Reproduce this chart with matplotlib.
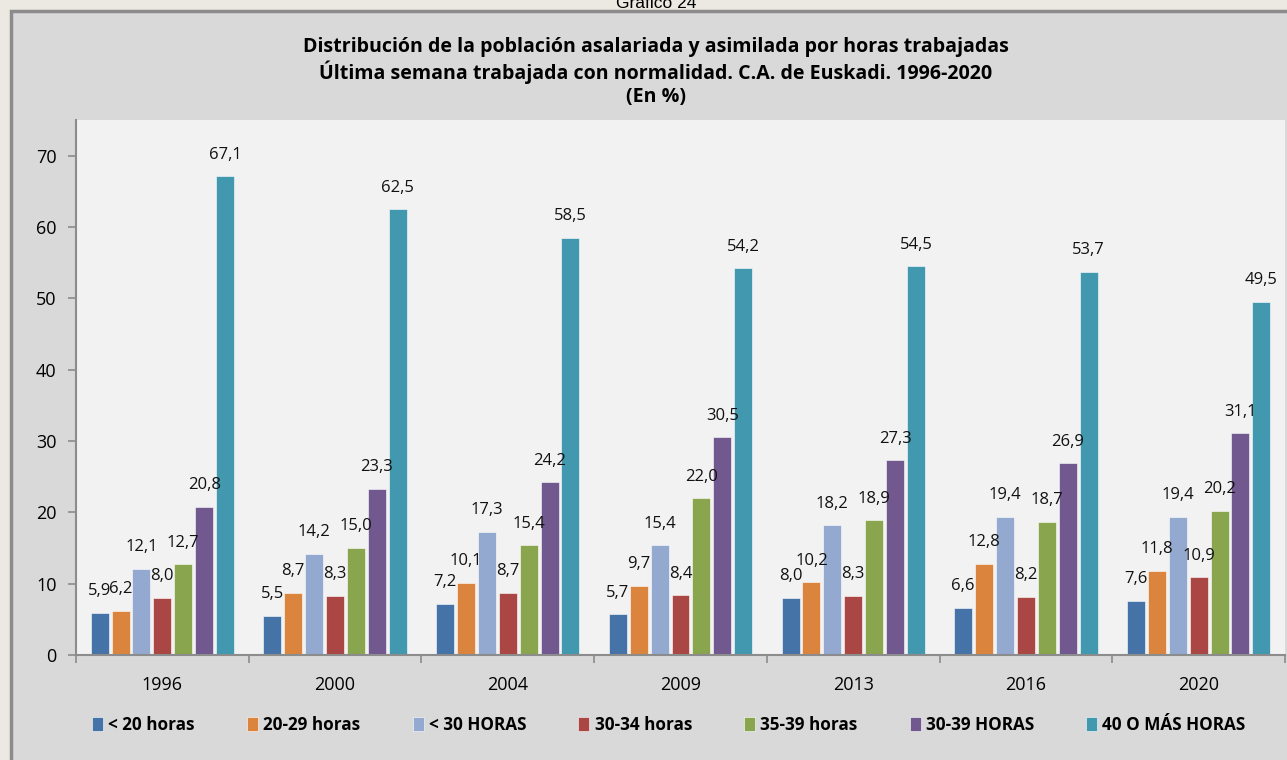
import numpy as np
import matplotlib
matplotlib.use("Agg")
import matplotlib.pyplot as plt
from matplotlib.patches import Rectangle

# data (%)
years = ["1996", "2000", "2004", "2009", "2013", "2016", "2020"]
series_names = ["< 20 horas", "20-29 horas", "< 30 HORAS", "30-34 horas",
                "35-39 horas", "30-39 HORAS", "40 O MÁS HORAS"]
menos20 = [5.9, 5.5, 7.2, 5.7, 8.0, 6.6, 7.6]
h20_29 = [6.2, 8.7, 10.1, 9.7, 10.2, 12.8, 11.8]
menos30 = [12.1, 14.2, 17.3, 15.4, 18.2, 19.4, 19.4]
h30_34 = [8.0, 8.3, 8.7, 8.4, 8.3, 8.2, 10.9]
h35_39 = [12.7, 15.0, 15.4, 22.0, 18.9, 18.7, 20.2]
h30_39 = [20.8, 23.3, 24.2, 30.5, 27.3, 26.9, 31.1]
h40mas = [67.1, 62.5, 58.5, 54.2, 54.5, 53.7, 49.5]
all_series = [menos20, h20_29, menos30, h30_34, h35_39, h30_39, h40mas]
colors = ["#4572a7", "#db843d", "#93a9cf", "#aa4643", "#89a54e", "#71588f", "#4198af"]

W, H = 1287, 760
fig = plt.figure(figsize=(W / 100, H / 100), dpi=100)
fig.patch.set_facecolor("#ece9e2")

# chart area (behind the axes)
fig.patches.append(Rectangle((11 / W, -0.01), 1.0, 1.01 - 11 / H, transform=fig.transFigure,
                             facecolor="#d9d9d9", edgecolor="#8c8c8c", lw=2.5, zorder=-10))

cx = 656 / W
fig.text(cx, 1 - 4 / H, "Gráfico 24", ha="center", va="center",
         fontsize=12.5, family="Liberation Sans")

title = ("Distribución de la población asalariada y asimilada por horas trabajadas\n"
         "Última semana trabajada con normalidad. C.A. de Euskadi. 1996-2020\n"
         "(En %)")
fig.text(cx, 1 - 72 / H, title, ha="center", va="center", fontsize=14.1,
         fontweight="bold", family="Open Sans", linespacing=1.22)

left, right, top, bottom = 76, 1285, 120, 655
ax = fig.add_axes([left / W, 1 - bottom / H, (right - left) / W, (bottom - top) / H])
ax.set_facecolor("#f2f2f2")

x = np.arange(len(years))
pitch = 0.121
bw = 0.104
for i, (vals, col, name) in enumerate(zip(all_series, colors, series_names)):
    xs = x + (i - 3) * pitch
    ax.bar(xs, vals, width=bw, color=col, edgecolor="white", linewidth=0.4,
           label=name, zorder=2)
    for xi, v in zip(xs, vals):
        ax.annotate(f"{v:.1f}".replace(".", ","), (xi, v), xytext=(0, 15.5),
                    textcoords="offset points", ha="center", va="center",
                    fontsize=12, family="Open Sans", color="#111111")

ax.set_xlim(-0.5, len(years) - 0.5)
ax.set_ylim(0, 75)
ax.set_yticks(range(0, 71, 10))
ax.set_xticks(x)
ax.set_xticklabels(years)
ax.set_xticks(np.arange(-0.5, len(years)), minor=True)
ax.tick_params(axis="x", which="major", length=0, pad=15)
ax.tick_params(axis="x", which="minor", length=6, color="#8c8c8c", width=1.2)
ax.tick_params(axis="y", length=6, color="#8c8c8c", width=1.2, pad=8)
for lab in ax.get_xticklabels() + ax.get_yticklabels():
    lab.set_fontfamily("Open Sans")
    lab.set_fontsize(13)
for s in ["top", "right"]:
    ax.spines[s].set_visible(False)
for s in ["left", "bottom"]:
    ax.spines[s].set_color("#8c8c8c")
    ax.spines[s].set_linewidth(1.5)

fig.legend(loc="center", bbox_to_anchor=(669 / W, 1 - 725 / H), ncol=7,
           frameon=False, handlelength=0.65, handleheight=0.9, handletextpad=0.3,
           columnspacing=3.05, prop={"family": "Open Sans", "weight": "bold", "size": 12.3})

fig.savefig("out.png", dpi=100, facecolor=fig.get_facecolor())
